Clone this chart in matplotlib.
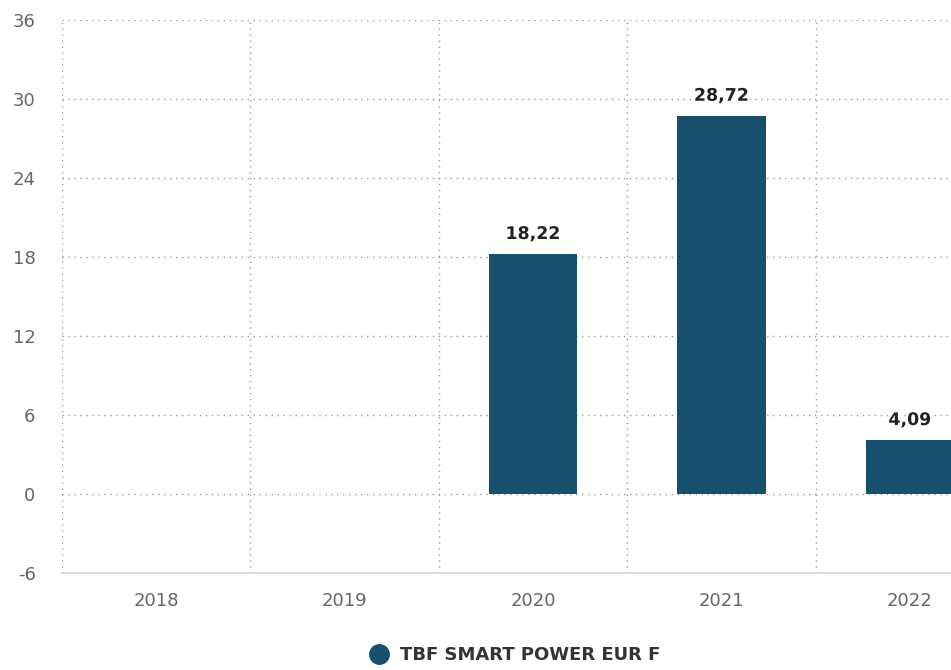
import matplotlib.pyplot as plt
import matplotlib.patheffects as pe
from matplotlib.lines import Line2D
import numpy as np

years = ['2018', '2019', '2020', '2021', '2022']
values = [None, None, 18.22, 28.72, 4.09]
labels = ['', '', '18,22', '28,72', '4,09']
series_name = 'TBF SMART POWER EUR F'
yticks = [-6, 0, 6, 12, 18, 24, 30, 36]

bar_color = '#17506c'
plt.rcParams['font.family'] = ['DejaVu Sans']

fig = plt.figure(figsize=(9.51, 6.70), dpi=100)
# plot area runs past the right edge of the picture, like the original
ax = fig.add_axes([62 / 951, 97 / 670, 942 / 951, 553 / 670])

x = np.arange(len(years))
for xi, v, lab in zip(x, values, labels):
    if v is None:
        continue
    ax.bar(xi, v, width=0.47, color=bar_color, zorder=3)
    t = ax.annotate(lab, (xi, v), xytext=(0, 8), textcoords='offset points',
                    ha='center', va='bottom', fontsize=12.5, fontweight='bold',
                    color='#222222', zorder=4)
    t.set_path_effects([pe.withStroke(linewidth=3, foreground='white')])

ax.set_xlim(-0.5, len(years) - 0.5)
ax.set_ylim(-6, 36)
ax.set_yticks(yticks)
ax.set_yticklabels([str(t) for t in yticks])
ax.set_xticks(x)
ax.set_xticklabels(years)

# dotted grid: horizontal at y ticks, vertical at category boundaries
dots = (0, (1, 3.3))
for yt in yticks[1:]:
    ax.axhline(yt, color='#999999', linestyle=dots, linewidth=1.0, zorder=1)
for b in np.arange(-0.5, len(years) - 0.5, 1):
    ax.axvline(b, color='#999999', linestyle=dots, linewidth=1.0, zorder=1)

for s in ['top', 'right', 'left']:
    ax.spines[s].set_visible(False)
ax.spines['bottom'].set_color('#ccd6eb')
ax.spines['bottom'].set_linewidth(1.2)

ax.tick_params(axis='y', length=0, pad=19, labelsize=13, labelcolor='#666666')
ax.tick_params(axis='x', length=0, pad=13.5, labelsize=13, labelcolor='#666666')

handle = Line2D([], [], marker='o', linestyle='none', markersize=14,
                color=bar_color)
fig.legend([handle], [series_name], loc='center', bbox_to_anchor=(514 / 951, 15 / 670),
           frameon=False, handletextpad=0.55, handlelength=1.2,
           prop={'weight': 'bold', 'size': 13}, labelcolor='#333333')

fig.savefig('out.png', dpi=100)
